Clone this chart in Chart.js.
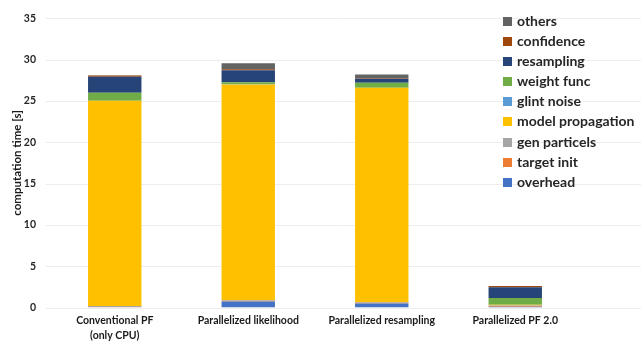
<!DOCTYPE html>
<html>
<head>
<meta charset="utf-8">
<script src="https://cdn.jsdelivr.net/npm/chart.js@4"></script>
<style>
    body { margin: 0; background: #fff; }
    #wrap { position: relative; width: 641px; height: 341px; }
    #legend {
        position: absolute; left: 503px; top: 11px;
        font-family: Lato, sans-serif; font-weight: bold; font-size: 14px; color: #262626;
    }
    #legend div { height: 20.1px; line-height: 20px; white-space: nowrap; }
    #legend span.box {
        display: inline-block; width: 9px; height: 9px; margin-right: 5px; vertical-align: -0px;
    }
</style>
</head>
<body>
<div id="wrap">
    <canvas id="chart" width="641" height="341"></canvas>
    <div id="legend"></div>
</div>
<script>
// Computation time per PF variant, stacked by processing stage

const categories = [['Conventional PF', '(only CPU)'], 'Parallelized likelihood', 'Parallelized resampling', 'Parallelized PF 2.0'];

const overhead         = [0,     0.75, 0.5,  0.1];
const targetInit       = [0.03,  0.05, 0.05, 0.1];
const genParticels     = [0.15,  0.1,  0.1,  0.05];
const modelPropagation = [24.85, 26.1, 25.95, 0.1];
const glintNoise       = [0,     0.05, 0,    0];
const weightFunc       = [0.95,  0.2,  0.6,  0.8];
const resampling       = [1.95,  1.45, 0.5,  1.3];
const confidence       = [0.15,  0.15, 0.05, 0.15];
const others           = [0.02,  0.7,  0.45, 0];

const yTicks = [0, 5, 10, 15, 20, 25, 30, 35];

const series = [
    { label: 'overhead', data: overhead, color: '#4472C4' },
    { label: 'target init', data: targetInit, color: '#ED7D31' },
    { label: 'gen particels', data: genParticels, color: '#A5A5A5' },
    { label: 'model propagation', data: modelPropagation, color: '#FFC000' },
    { label: 'glint noise', data: glintNoise, color: '#5B9BD5' },
    { label: 'weight func', data: weightFunc, color: '#70AD47' },
    { label: 'resampling', data: resampling, color: '#264478' },
    { label: 'confidence', data: confidence, color: '#9E480E' },
    { label: 'others', data: others, color: '#636363' }
];

// horizontal grid lines run on under the legend to the right edge
const wideGrid = {
    id: 'wideGrid',
    beforeDatasetsDraw(chart) {
        const { ctx, chartArea, scales } = chart;
        ctx.save();
        ctx.strokeStyle = '#EDEDED';
        ctx.lineWidth = 1;
        yTicks.forEach(v => {
            const y = Math.round(scales.y.getPixelForValue(v)) + 0.5;
            ctx.beginPath();
            ctx.moveTo(chartArea.left - 2, y);
            ctx.lineTo(chart.width, y);
            ctx.stroke();
        });
        ctx.restore();
    }
};

const chart = new Chart(document.getElementById('chart'), {
    type: 'bar',
    data: {
        labels: categories,
        datasets: series.map(s => ({
            label: s.label,
            data: s.data,
            backgroundColor: s.color,
            borderWidth: 0,
            barPercentage: 0.4,
            categoryPercentage: 1
        }))
    },
    options: {
        responsive: false,
        animation: false,
        layout: { padding: { top: 10, right: 59, left: 10, bottom: -8 } },
        plugins: {
            legend: { display: false },
            tooltip: { enabled: false }
        },
        scales: {
            x: {
                stacked: true,
                grid: { display: false, drawTicks: false },
                border: { display: false },
                ticks: {
                    color: '#1a1a1a',
                    font: { family: 'Lato', weight: 'bold', size: 10.5, lineHeight: 1.4 },
                    padding: 6,
                    maxRotation: 0,
                    autoSkip: false
                }
            },
            y: {
                stacked: true,
                min: 0,
                max: 35,
                grid: { display: false, drawTicks: false },
                border: { display: false },
                afterFit: scale => { scale.width = 38; },
                ticks: {
                    stepSize: 5,
                    color: '#262626',
                    font: { family: 'Lato', weight: 'bold', size: 10.5 },
                    padding: 12
                },
                title: {
                    display: true,
                    text: 'computation time [s]',
                    color: '#1a1a1a',
                    font: { family: 'Lato', weight: 'bold', size: 11.5 },
                    padding: 0
                }
            }
        }
    },
    plugins: [wideGrid]
});

// legend, top entry is the top of the stack
const legendDiv = document.getElementById('legend');
series.slice().reverse().forEach(s => {
    const row = document.createElement('div');
    row.innerHTML = `<span class="box" style="background:${s.color}"></span>${s.label}`;
    legendDiv.appendChild(row);
});
</script>
</body>
</html>
